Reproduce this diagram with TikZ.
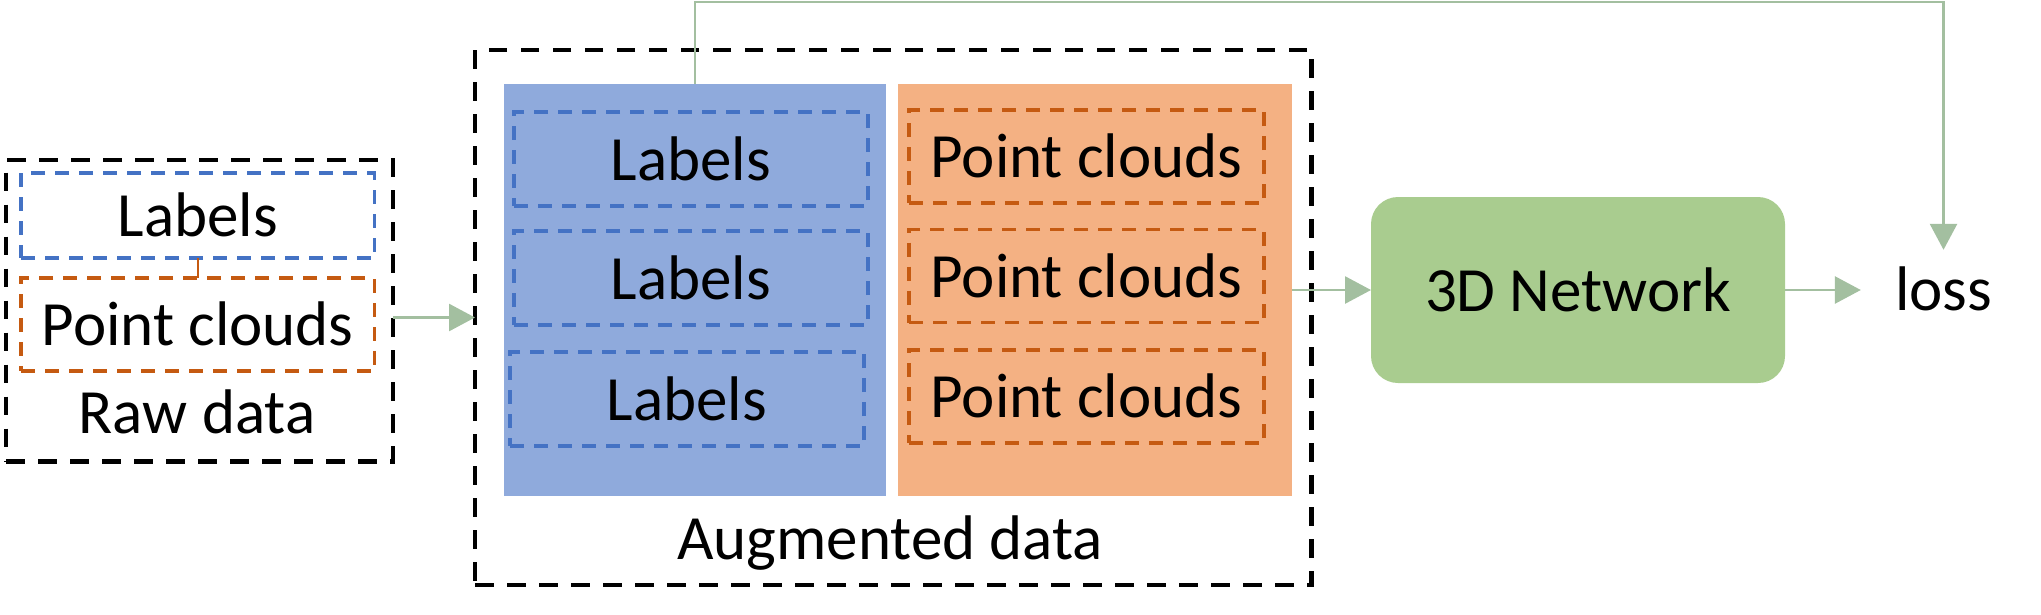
\documentclass[tikz,border=0pt]{standalone}
\usepackage{fontspec}
\setmainfont{Carlito}
\usetikzlibrary{arrows.meta}
\definecolor{bluefill}{HTML}{8FAADC}
\definecolor{orangefill}{HTML}{F4B183}
\definecolor{bluedash}{HTML}{4472C4}
\definecolor{orangedash}{HTML}{C55A11}
\definecolor{netfill}{HTML}{A9CC8F}
\definecolor{connc}{HTML}{A3BFA0}
\tikzset{
  txt/.style={font=\fontsize{63}{70}\selectfont, text height=42pt, text depth=0pt},
  outerbox/.style={draw=black, line width=4.5pt, dash pattern=on 18.5pt off 13.5pt, inner sep=0pt, outer sep=0pt},
  bluebox/.style={txt, draw=bluedash, line width=3.2pt, dash pattern=on 14pt off 10pt, inner sep=0pt, outer sep=0pt},
  orangebox/.style={txt, draw=orangedash, line width=3.2pt, dash pattern=on 14pt off 10pt, inner sep=0pt, outer sep=0pt},
  colfill/.style={inner sep=0pt, outer sep=0pt},
  conn/.style={draw=connc, line width=2.8pt, -{Triangle[length=26pt,width=27pt,color=connc,fill=connc]}},
}
\begin{document}
\begin{tikzpicture}[x=1pt,y=-1pt]
\useasboundingbox (0,0) rectangle (2041,614);

% Raw data group
\node[outerbox, minimum width=387pt, minimum height=301.5pt] (raw) at (199.5,310.75) {};
\node[bluebox, minimum width=353.5pt, minimum height=85pt] (rawlab) at (197.75,215.5) {Labels};
\node[orangebox, minimum width=353.5pt, minimum height=93pt] (rawpc) at (197.75,324.5) {Point clouds};
\node[txt, anchor=base, inner sep=0pt] (rawtxt) at (197,433) {Raw data};
\draw[draw=orangedash, line width=2.5pt] (rawlab.south) -- (rawpc.north);

% Augmented data group
\node[outerbox, minimum width=836.5pt, minimum height=535pt] (aug) at (893.25,317.5) {};
\node[colfill, fill=bluefill, minimum width=382pt, minimum height=412pt] (bcol) at (695,290) {};
\node[colfill, fill=orangefill, minimum width=394pt, minimum height=412pt] (pcol) at (1095,290) {};
\node[bluebox, minimum width=354pt, minimum height=94pt] (blab1) at (691,159) {Labels};
\node[bluebox, minimum width=354pt, minimum height=94pt] (blab2) at (691,278) {Labels};
\node[bluebox, minimum width=354pt, minimum height=94pt] (blab3) at (687,399) {Labels};
\node[orangebox, minimum width=355pt, minimum height=93pt] (ppc1) at (1086.5,156.5) {Point clouds};
\node[orangebox, minimum width=355pt, minimum height=93pt] (ppc2) at (1086.5,276) {Point clouds};
\node[orangebox, minimum width=355pt, minimum height=93pt] (ppc3) at (1086.5,396.5) {Point clouds};
\node[txt, anchor=base, inner sep=0pt] (augtxt) at (890,559) {Augmented data};

% Network and loss
\node[txt, fill=netfill, rounded corners=27pt, minimum width=414pt, minimum height=186pt, inner sep=0pt, outer sep=0pt] (net) at (1578,290) {3D Network};
\node[txt, anchor=base, inner xsep=34pt, inner ysep=18pt] (loss) at (1943.5,310) {loss};
\coordinate (fbtop) at (695,2);

% Connectors
\draw[conn] (raw.east |- aug.west) -- (aug.west);
\draw[conn] (pcol.east |- net.west) -- (net.west);
\draw[conn] (net.east) -- (net.east -| loss.west);
\draw[conn] (bcol.north) -- (fbtop) -| (loss.north);
\end{tikzpicture}
\end{document}
